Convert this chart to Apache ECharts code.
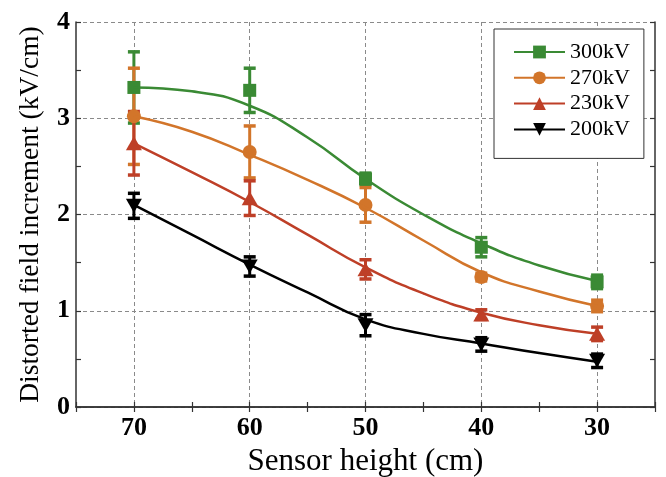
<!DOCTYPE html>
<html>
<head>
<meta charset="utf-8">
<script src="https://cdn.jsdelivr.net/npm/echarts@6/dist/echarts.min.js"></script>
<style>html,body{margin:0;padding:0;background:#fff}#c{width:666px;height:477px}</style>
</head>
<body>
<div id="c"></div>
<script>
// x categories (sensor height, cm), reversed axis
const categories = ['75','70','65','60','55','50','45','40','35','30','25'];
const pointX = ['70','60','50','40','30'];
const curveX = ['70','65','60','55','50','45','40','35','30'];
const names = ['300kV','270kV','230kV','200kV'];
const yTicks = [0,1,2,3,4];

// measured means and error half-widths
const mean300 = [3.32, 3.29, 2.37, 1.66, 1.30];
const err300  = [0.37, 0.23, 0.06, 0.10, 0.07];
const mean270 = [3.02, 2.65, 2.10, 1.35, 1.05];
const err270  = [0.50, 0.27, 0.18, 0.04, 0.06];
const mean230 = [2.74, 2.17, 1.43, 0.96, 0.76];
const err230  = [0.33, 0.18, 0.10, 0.05, 0.07];
const mean200 = [2.09, 1.46, 0.85, 0.65, 0.48];
const err200  = [0.13, 0.10, 0.11, 0.07, 0.07];

// fitted curves
const fit300 = [3.32, 3.28, 3.13, 2.80, 2.37, 2.00, 1.70, 1.47, 1.31];
const fit270 = [3.02, 2.86, 2.62, 2.36, 2.07, 1.73, 1.40, 1.20, 1.05];
const fit230 = [2.74, 2.44, 2.13, 1.79, 1.45, 1.18, 0.98, 0.85, 0.76];
const fit200 = [2.10, 1.79, 1.48, 1.19, 0.91, 0.76, 0.66, 0.56, 0.47];

const colors = ['#3A8A34', '#D2752A', '#BE3F27', '#000000'];
const symbols = ['rect', 'circle', 'triangle', 'path://M0,0 L2,0 L1,1.7 Z'];
const symSizes = [13, 14, [16, 14], [16, 14]];
const means = [mean300, mean270, mean230, mean200];
const errs = [err300, err270, err230, err200];
const fits = [fit300, fit270, fit230, fit200];

const serif = 'Liberation Serif';

function errRender(color) {
  return function (params, api) {
    const x = api.value(0);
    const pLo = api.coord([x, api.value(1)]);
    const pHi = api.coord([x, api.value(2)]);
    const h = 6;
    return {
      type: 'group',
      children: [
        {type: 'line', shape: {x1: pLo[0], y1: pLo[1], x2: pHi[0], y2: pHi[1]}, style: {stroke: color, lineWidth: 3}},
        {type: 'line', shape: {x1: pLo[0] - h, y1: pLo[1], x2: pLo[0] + h, y2: pLo[1]}, style: {stroke: color, lineWidth: 3.5}},
        {type: 'line', shape: {x1: pHi[0] - h, y1: pHi[1], x2: pHi[0] + h, y2: pHi[1]}, style: {stroke: color, lineWidth: 3.5}}
      ]
    };
  };
}

const series = [];
names.forEach(function (nm, i) {
  series.push({
    name: nm, type: 'line', smooth: true,
    data: curveX.map(function (c, j) { return [c, fits[i][j]]; }),
    symbol: symbols[i], symbolSize: symSizes[i], showSymbol: false,
    lineStyle: {color: colors[i], width: 2.5},
    itemStyle: {color: colors[i]},
    silent: true
  });
  series.push({
    name: nm + ' err', type: 'custom',
    renderItem: errRender(colors[i]),
    encode: {x: 0, y: [1, 2]},
    data: pointX.map(function (c, j) { return [c, means[i][j] - errs[i][j], means[i][j] + errs[i][j]]; }),
    silent: true
  });
  series.push({
    name: nm + ' pts', type: 'scatter',
    data: pointX.map(function (c, j) { return [c, means[i][j]]; }),
    symbol: symbols[i], symbolSize: symSizes[i],
    itemStyle: {color: colors[i], opacity: 1},
    silent: true
  });
});

const axisLineStyle = {color: '#333', width: 1.5};

const option = {
  animation: false,
  backgroundColor: '#fff',
  grid: {left: 76, right: 11, top: 22, bottom: 70, containLabel: false, outerBoundsMode: 'none'},
  legend: {
    data: names,
    orient: 'vertical',
    left: 494, top: 29,
    padding: [12, 14, 18, 19],
    itemWidth: 51, itemHeight: 16, itemGap: 3.8,
    borderColor: '#333', borderWidth: 1,
    backgroundColor: '#fff',
    textStyle: {fontFamily: serif, fontSize: 22, color: '#000'}
  },
  xAxis: [{
    type: 'category', data: categories, boundaryGap: false,
    name: 'Sensor height (cm)', nameLocation: 'middle', nameGap: 25,
    nameTextStyle: {fontFamily: serif, fontSize: 31, color: '#000'},
    axisLine: {lineStyle: axisLineStyle},
    axisTick: {show: true, inside: true, length: 5, interval: 0, alignWithLabel: true, lineStyle: {color: '#333', width: 1.2}},
    axisLabel: {
      interval: function (idx, v) { return ['70','60','50','40','30'].indexOf(v) >= 0; },
      fontFamily: serif, fontSize: 26, fontWeight: 'bold', color: '#000', margin: 8
    },
    splitLine: {
      show: true,
      interval: function (idx, v) { return ['70','60','50','40','30'].indexOf(v) >= 0; },
      lineStyle: {color: '#8a8a8a', type: [4, 3], width: 1}
    }
  }, {
    type: 'category', data: categories, boundaryGap: false, position: 'top',
    axisLine: {lineStyle: axisLineStyle},
    axisTick: {show: true, inside: true, length: 5, interval: 0, lineStyle: {color: '#333', width: 1.2}},
    axisLabel: {show: false}, splitLine: {show: false}
  }],
  yAxis: [{
    type: 'value', min: 0, max: 4, interval: 1,
    name: 'Distorted field increment (kV/cm)', nameLocation: 'middle', nameGap: 31,
    nameTextStyle: {fontFamily: serif, fontSize: 27.5, color: '#000'},
    axisLine: {show: true, lineStyle: axisLineStyle},
    axisTick: {show: true, inside: true, length: 5, lineStyle: {color: '#333', width: 1.2}},
    minorTick: {show: true, splitNumber: 2, length: 5, lineStyle: {color: '#333', width: 1.2}},
    axisLabel: {
      formatter: function (v) { return yTicks.indexOf(v) >= 0 ? String(v) : ''; },
      fontFamily: serif, fontSize: 26, fontWeight: 'bold', color: '#000', margin: 6
    },
    splitLine: {show: true, lineStyle: {color: '#8a8a8a', type: [4, 3], width: 1}}
  }, {
    type: 'value', min: 0, max: 4, interval: 1, position: 'right',
    axisLine: {show: true, lineStyle: axisLineStyle},
    axisTick: {show: true, inside: true, length: 5, lineStyle: {color: '#333', width: 1.2}},
    minorTick: {show: true, splitNumber: 2, length: 5, lineStyle: {color: '#333', width: 1.2}},
    axisLabel: {show: false}, splitLine: {show: false}
  }],
  series: series
};

const chart = echarts.init(document.getElementById('c'), null, {renderer: 'canvas'});
chart.setOption(option);
</script>
</body>
</html>
